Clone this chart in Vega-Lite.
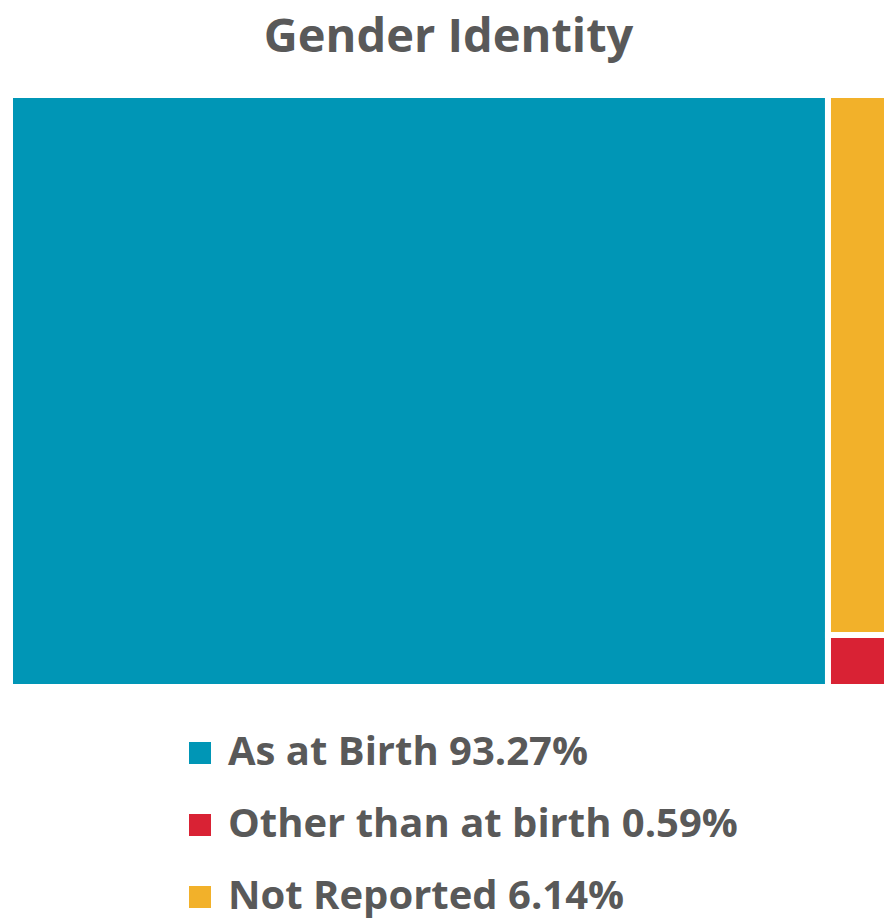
{
  "$schema": "https://vega.github.io/schema/vega-lite/v6.json",
  "width": 877,
  "height": 592,
  "autosize": {"type": "none"},
  "padding": {"left": 10, "top": 95, "right": 0, "bottom": 235},
  "background": "white",
  "title": {
    "text": "Gender Identity",
    "fontSize": 47,
    "font": "Open Sans",
    "fontWeight": "bold",
    "color": "#595959",
    "anchor": "middle",
    "offset": 30
  },
  "data": {
    "values": [
      {"category": "As at Birth", "value": 93.27, "group": "A"},
      {"category": "Other than at birth", "value": 0.59, "group": "B"},
      {"category": "Not Reported", "value": 6.14, "group": "B"}
    ]
  },
  "transform": [
    {"calculate": "datum.category + ' ' + format(datum.value, '.2f') + '%'", "as": "label"},
    {"stack": "value", "groupby": [], "sort": [{"field": "value", "order": "descending"}], "as": ["xs0", "xs1"]},
    {"joinaggregate": [{"op": "min", "field": "xs0", "as": "gx0"}, {"op": "max", "field": "xs1", "as": "gx1"}], "groupby": ["group"]},
    {"stack": "value", "groupby": ["group"], "offset": "normalize", "sort": [{"field": "value", "order": "ascending"}], "as": ["y0", "y1"]}
  ],
  "mark": {"type": "rect", "stroke": "white", "strokeWidth": 6},
  "encoding": {
    "x": {"field": "gx0", "type": "quantitative", "scale": {"domain": [0, 100], "nice": false, "zero": false}, "axis": null},
    "x2": {"field": "gx1"},
    "y": {"field": "y0", "type": "quantitative", "scale": {"domain": [0, 1], "nice": false}, "axis": null},
    "y2": {"field": "y1"},
    "color": {
      "field": "label",
      "type": "nominal",
      "scale": {
        "domain": ["As at Birth 93.27%", "Other than at birth 0.59%", "Not Reported 6.14%"],
        "range": ["#0096B6", "#D92234", "#F2B12A"]
      },
      "legend": {
        "title": null,
        "orient": "none",
        "legendX": 170,
        "legendY": 638,
        "direction": "vertical",
        "symbolType": "square",
        "symbolSize": 484,
        "symbolStrokeWidth": 0,
        "symbolOpacity": 1,
        "labelFont": "Open Sans",
        "labelFontSize": 40,
        "labelFontWeight": "bold",
        "labelColor": "#595959",
        "labelOffset": 8,
        "labelLimit": 0,
        "rowPadding": 32
      }
    },
    "tooltip": [{"field": "label"}]
  },
  "config": {"view": {"stroke": null}}
}
